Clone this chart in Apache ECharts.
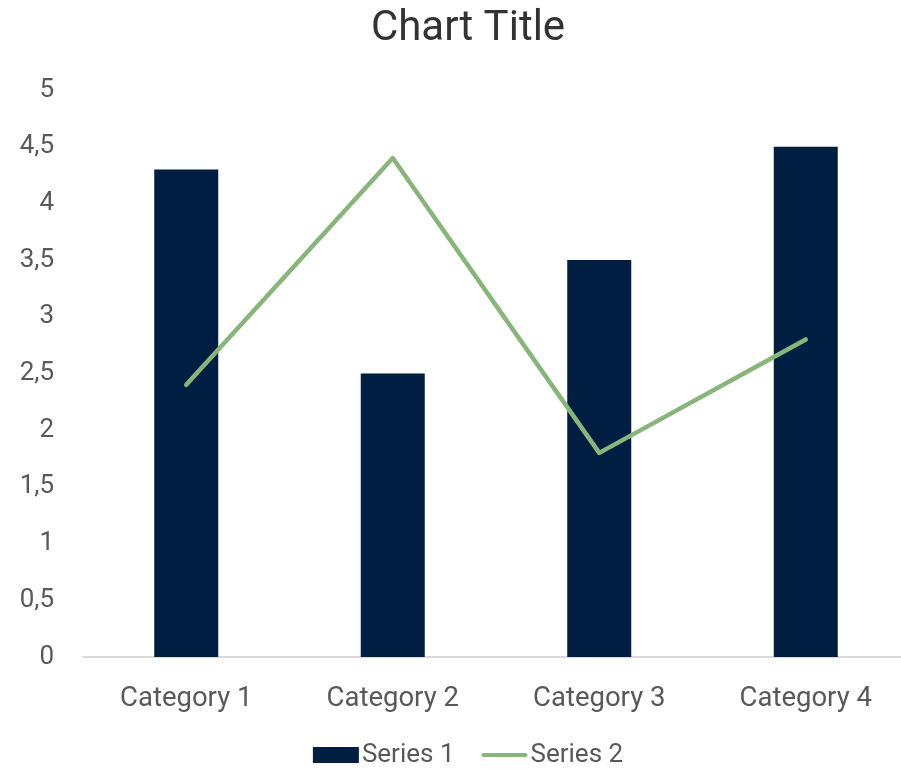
<!DOCTYPE html>
<html>
<head>
<meta charset="utf-8">
<script src="https://cdn.jsdelivr.net/npm/echarts@6/dist/echarts.min.js"></script>
<style>
  html, body { margin: 0; padding: 0; background: #ffffff; overflow: hidden; }
  #chart { width: 936px; height: 769px; }
</style>
</head>
<body>
<div id="chart"></div>
<script>
// Chart data
const categories = ['Category 1', 'Category 2', 'Category 3', 'Category 4'];
const series1Values = [4.3, 2.5, 3.5, 4.5];
const series2Values = [2.4, 4.4, 1.8, 2.8];
const seriesNames = ['Series 1', 'Series 2'];
const yTicks = [0, 0.5, 1, 1.5, 2, 2.5, 3, 3.5, 4, 4.5, 5];

const FONT = 'Roboto';
const chart = echarts.init(document.getElementById('chart'), null, { renderer: 'canvas' });

chart.setOption({
  animation: false,
  backgroundColor: '#ffffff',
  title: {
    text: 'Chart Title',
    left: 'center',
    top: 3,
    textStyle: { fontFamily: FONT, fontSize: 42, fontWeight: 'normal', color: '#333333' }
  },
  legend: {
    bottom: -4,
    left: 'center',
    itemGap: 27,
    itemWidth: 46,
    itemHeight: 16,
    textStyle: { fontFamily: FONT, fontSize: 26, color: '#595959', padding: [0, 0, 0, -2] },
    data: [
      { name: seriesNames[0], icon: 'rect' },
      { name: seriesNames[1], icon: 'path://M2,0 H44 A2,2 0 0 1 44,4 H2 A2,2 0 0 1 2,0 Z', itemStyle: { color: '#87b57a' } }
    ]
  },
  grid: { left: 83, top: 90, right: 27, bottom: 112, containLabel: false },
  xAxis: {
    type: 'category',
    data: categories,
    axisLine: { lineStyle: { color: '#d9d9d9', width: 2 } },
    axisTick: { show: false },
    axisLabel: { fontFamily: FONT, fontSize: 27.5, color: '#595959', margin: 28 }
  },
  yAxis: {
    type: 'value',
    min: yTicks[0],
    max: yTicks[yTicks.length - 1],
    interval: 0.5,
    splitLine: { show: false },
    axisLine: { show: false },
    axisTick: { show: false },
    axisLabel: {
      fontFamily: FONT, fontSize: 26, color: '#595959', margin: 29,
      formatter: v => String(v).replace('.', ',')
    }
  },
  series: [
    {
      name: seriesNames[0],
      type: 'bar',
      data: series1Values,
      barWidth: 64,
      itemStyle: { color: '#001e41' }
    },
    {
      name: seriesNames[1],
      type: 'line',
      data: series2Values,
      symbol: 'none',
      lineStyle: { color: '#87b57a', width: 4.5, cap: 'round', join: 'round' },
      itemStyle: { color: '#87b57a' }
    }
  ]
});
</script>
</body>
</html>
